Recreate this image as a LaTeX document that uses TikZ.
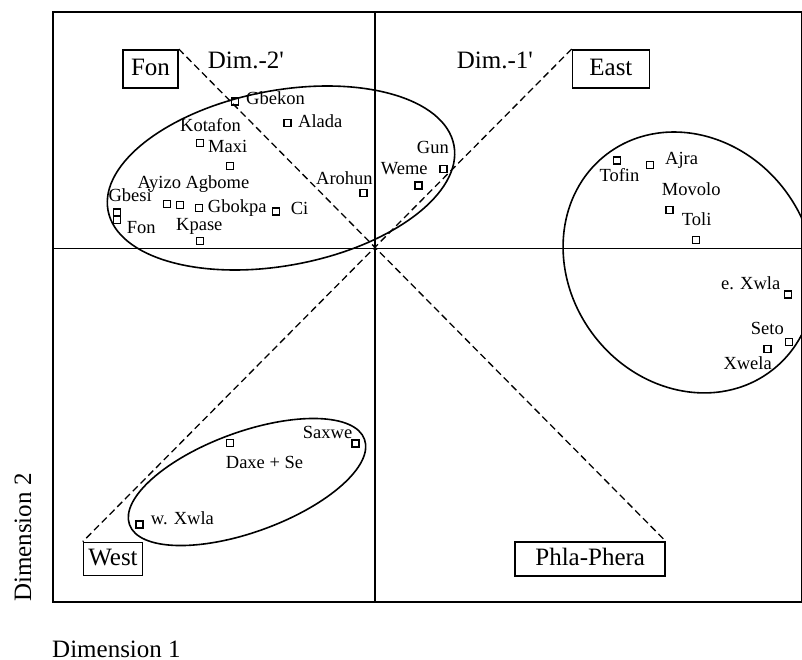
\documentclass[tikz,border=0pt]{standalone}
\usepackage{fontspec}
\setmainfont{Liberation Serif}
\begin{document}
\begin{tikzpicture}[x=1pt,y=-1pt,
  lbl/.style={font=\fontsize{18.5}{20}\selectfont, inner sep=0pt, anchor=mid west},
  biglbl/.style={font=\fontsize{25}{28}\selectfont, inner sep=0pt, anchor=base west},
  grpbox/.style={draw, line width=1.5pt, font=\fontsize{25}{28}\selectfont, inner sep=0pt, text height=18pt, text depth=5.5pt},
  mk/.style={draw, line width=1.4pt, minimum size=7pt, inner sep=0pt},
  axisline/.style={line width=1.8pt},
  framel/.style={line width=2pt},
  cluster/.style={line width=1.6pt},
  dimline/.style={line width=1.3pt, dash pattern=on 7pt off 4pt},
  ]
\useasboundingbox (0,0) rectangle (802,660);
% frame and axes
\coordinate (fNW) at (53,12);
\coordinate (fSE) at (802,602);
\draw[framel] (fNW) rectangle (fSE);
\coordinate (vT) at (375,12);
\coordinate (vB) at (375,602);
\coordinate (hL) at (53,248.5);
\coordinate (hR) at (802,248.5);
\draw[axisline] (vT) -- (vB);
\draw[axisline] (hL) -- (hR);
% clusters
\coordinate (fonC) at (281,178);
\draw[cluster, rotate around={10.7:(fonC)}] (fonC) ellipse [x radius=176pt, y radius=87.5pt];
\coordinate (eastC) at (689,262.5);
\draw[cluster, rotate around={37:(eastC)}] (eastC) ellipse [x radius=120pt, y radius=136pt];
\coordinate (westC) at (247,482);
\draw[cluster, rotate around={20:(westC)}] (westC) ellipse [x radius=125pt, y radius=50pt];
% group boxes
\node[grpbox, minimum width=55pt, minimum height=38pt] (fonbox) at (150.5,68.8) {Fon};
\node[grpbox, minimum width=77pt, minimum height=38pt] (eastbox) at (610.9,68.8) {East};
\node[grpbox, minimum width=59pt, minimum height=33pt] (westbox) at (113,558.9) {West};
\node[grpbox, minimum width=150pt, minimum height=34pt] (phlabox) at (590.2,559.2) {Phla-Phera};
% dimension lines
\draw[dimline] (fonbox.north east) -- (phlabox.north east);
\draw[dimline] (eastbox.north west) -- (westbox.north west);
% dimension labels
\node[biglbl] (dim2) at (207.7,68.3) {Dim.-2\textquotesingle};
\node[biglbl] (dim1) at (456.7,68.3) {Dim.-1\textquotesingle};
\node[biglbl] (xlab) at (52,657) {Dimension 1};
\node[biglbl, rotate=90] (ylab) at (31,602) {Dimension 2};
% markers
\node[mk] (m1) at (235,101.7) {};
\node[mk] (m2) at (287.3,123.3) {};
\node[mk] (m3) at (200,143.3) {};
\node[mk] (m4) at (230,166) {};
\node[mk] (m5) at (166.7,204.3) {};
\node[mk] (m6) at (180,205) {};
\node[mk] (m7) at (199,208.3) {};
\node[mk] (m8) at (275.7,211.7) {};
\node[mk] (m9) at (116.7,212.7) {};
\node[mk] (m10) at (116.7,220) {};
\node[mk] (m11) at (200,240.7) {};
\node[mk] (m12) at (363.3,193.3) {};
\node[mk] (m13) at (443.3,169) {};
\node[mk] (m14) at (418.3,185.7) {};
\node[mk] (m15) at (616.7,160.7) {};
\node[mk] (m16) at (650,165) {};
\node[mk] (m17) at (669.3,210) {};
\node[mk] (m18) at (696,240) {};
\node[mk] (m19) at (787.7,294.3) {};
\node[mk] (m20) at (788.7,342) {};
\node[mk] (m21) at (767.3,348.7) {};
\node[mk] (m22) at (230,442.7) {};
\node[mk] (m23) at (355.3,443.3) {};
\node[mk] (m24) at (139.3,524.3) {};
% point labels
\node[lbl] (t1) at (246,102) {Gbekon};
\node[lbl] (t2) at (298,125) {Alada};
\node[lbl] (t3) at (180,129) {Kotafon};
\node[lbl] (t4) at (208,150.5) {Maxi};
\node[lbl] (t5) at (137.3,186.3) {Ayizo Agbome};
\node[lbl] (t6) at (108.3,199) {Gbesi};
\node[lbl] (t7) at (126.7,231) {Fon};
\node[lbl] (t8) at (207.7,210) {Gbokpa};
\node[lbl] (t9) at (290.7,212) {Ci};
\node[lbl] (t10) at (176,228) {Kpase};
\node[lbl] (t11) at (316,182.5) {Arohun};
\node[lbl] (t12) at (416.7,151.7) {Gun};
\node[lbl] (t13) at (380.7,172) {Weme};
\node[lbl] (t14) at (599.3,179) {Tofin};
\node[lbl] (t15) at (665,162.5) {Ajra};
\node[lbl] (t16) at (661.7,193.3) {Movolo};
\node[lbl] (t17) at (681.7,223.7) {Toli};
\node[lbl] (t18) at (721,287.5) {e. Xwla};
\node[lbl] (t19) at (750.7,332) {Seto};
\node[lbl] (t20) at (723.3,367.5) {Xwela};
\node[lbl] (t21) at (225.7,466) {Daxe + Se};
\node[lbl] (t22) at (302.7,436.7) {Saxwe};
\node[lbl] (t23) at (150.7,522) {w. Xwla};
\end{tikzpicture}
\end{document}
